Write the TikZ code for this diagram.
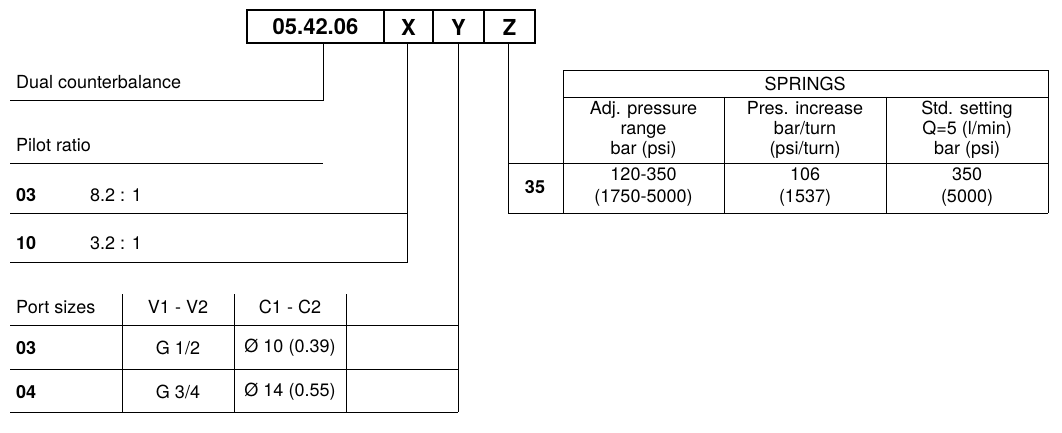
\documentclass[tikz,border=0pt]{standalone}
\usepackage{fontspec}
\setmainfont{TeX Gyre Heros}
\begin{document}
\begin{tikzpicture}[x=1pt,y=-1pt,
  ln/.style={line width=0.9pt},
  tl/.style={anchor=west,inner sep=0pt,font=\fontsize{18}{20}\selectfont},
  tc/.style={anchor=center,inner sep=0pt,font=\fontsize{18}{20}\selectfont,align=center},
  bd/.style={font=\fontsize{18}{20}\selectfont\bfseries},
  hd/.style={anchor=center,inner sep=0pt,font=\fontsize{22}{24}\selectfont\bfseries}]
\useasboundingbox (0,0) rectangle (1062,433);
% header
\draw[line width=2.6pt] (247,10) rectangle (535,43);
\draw[line width=2pt] (384,10)--(384,43) (433,10)--(433,43) (484,10)--(484,43);
\node[hd] (h0) at (315.5,27) {05.42.06};
\node[hd] (hx) at (408.5,27) {X};
\node[hd] (hy) at (458.5,27) {Y};
\node[hd] (hz) at (509.5,27) {Z};
% leader lines
\draw[ln] (323,43)--(323,100)--(10,100);
\draw[ln] (407,43)--(407,262)--(10,262);
\draw[ln] (10,213)--(407,213);
\draw[ln] (458,43)--(458,412);
\draw[ln] (508,43)--(508,213);
% dual
\node[tl] (dc) at (16,82) {Dual counterbalance};
\node[tl] (pr) at (16,145) {Pilot ratio};
\draw[ln] (10,163)--(323,163);
\node[tl,bd] (p03) at (16,195) {03};
\node[tl] (p03v) at (90,195) {8.2 : 1};
\node[tl,bd] (p10) at (16,243) {10};
\node[tl] (p10v) at (90,243) {3.2 : 1};
% ports
\node[tl] (ps) at (16,307) {Port sizes};
\node[tc] (v12) at (178,307) {V1 - V2};
\node[tc] (c12) at (290,307) {C1 - C2};
\draw[ln] (10,325)--(458,325) (10,369)--(458,369) (10,412)--(458,412);
\draw[ln] (122,294)--(122,412) (234,294)--(234,412) (346,294)--(346,412);
\node[tl,bd] (r03) at (16,348) {03};
\node[tc] (r03a) at (178,348) {G 1/2};
\node[tc] (r03b) at (290,348) {Ø 10 (0.39)};
\node[tl,bd] (r04) at (16,392) {04};
\node[tc] (r04a) at (178,392) {G 3/4};
\node[tc] (r04b) at (290,392) {Ø 14 (0.55)};
% springs
\draw[ln] (563,213)--(563,70)--(1048,70)--(1048,213);
\draw[ln] (563,97)--(1048,97);
\draw[ln] (508,163)--(1048,163) (508,213)--(1048,213);
\draw[ln] (724,97)--(724,213) (886,97)--(886,213);
\node[tc] (spr) at (805,84) {SPRINGS};
\node[tc,font=\fontsize{18}{20}\selectfont] (s1) at (643.5,130) {Adj. pressure\\range\\bar (psi)};
\node[tc,font=\fontsize{18}{20}\selectfont] (s2) at (805,130) {Pres. increase\\bar/turn\\(psi/turn)};
\node[tc,font=\fontsize{18}{20}\selectfont] (s3) at (967,130) {Std. setting\\Q=5 (l/min)\\bar (psi)};
\node[tc,bd] (z35) at (535,187) {35};
\node[tc,font=\fontsize{18}{22}\selectfont] (d1) at (643.5,187) {120-350\\(1750-5000)};
\node[tc,font=\fontsize{18}{22}\selectfont] (d2) at (805,187) {106\\(1537)};
\node[tc,font=\fontsize{18}{22}\selectfont] (d3) at (967,187) {350\\(5000)};
\end{tikzpicture}
\end{document}
